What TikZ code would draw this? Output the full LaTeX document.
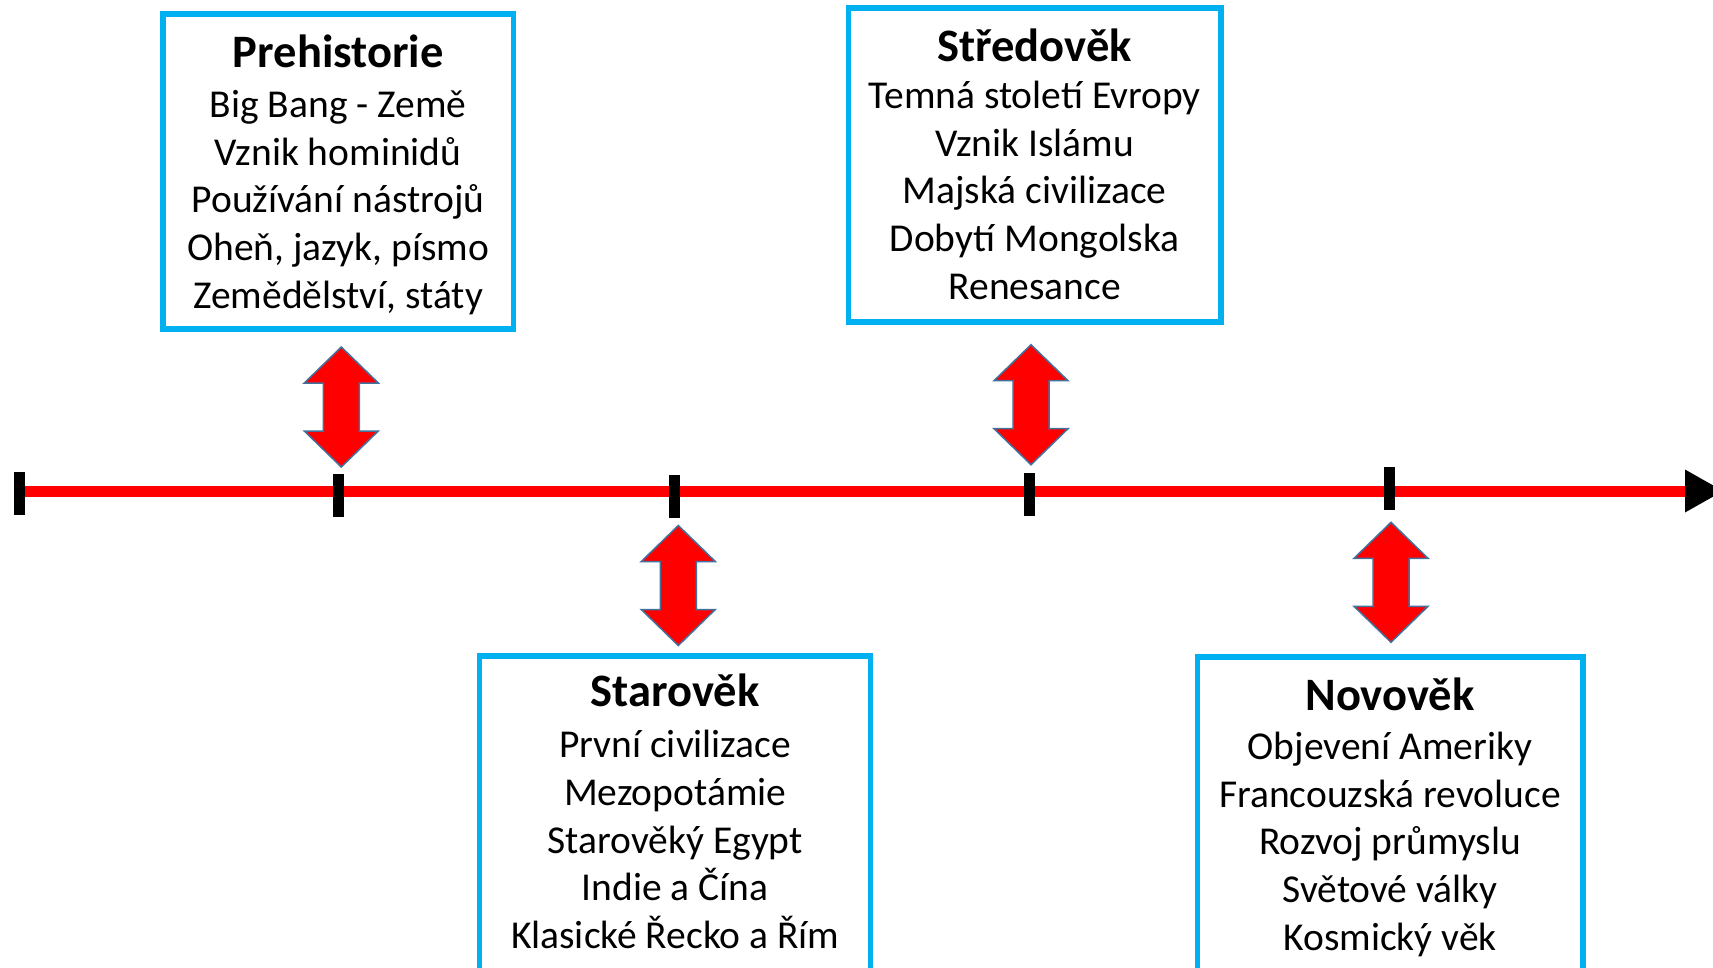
\documentclass[tikz,border=0pt]{standalone}
\usepackage{fontspec}
\setmainfont{Carlito}
\definecolor{boxcyan}{RGB}{0,176,240}
\definecolor{arrblue}{RGB}{65,113,156}
\newcommand{\ttl}[1]{{\fontsize{46.5}{47.8}\selectfont\bfseries #1}}
\begin{document}
\begin{tikzpicture}[x=1pt,y=-1pt,
  period/.style={draw=boxcyan, line width=5.5pt, inner sep=0pt},
  txt/.style={anchor=base, inner sep=0pt, font=\fontsize{39.5}{47.8}\selectfont},
  tickmark/.style={fill=black, inner sep=0pt, minimum width=11pt, minimum height=43pt},
  axisline/.style={draw=red, line width=11pt},
  arr/.style={fill=red, draw=arrblue, line width=1.5pt, line join=miter},
  dblarr/.pic={\path[arr] (0,-60) -- (37,-24) -- (18,-24) -- (18,24) -- (37,24) -- (0,60) -- (-37,24) -- (-18,24) -- (-18,-24) -- (-37,-24) -- cycle;}
]
\clip (0,0) rectangle (1713,967);
\fill[white] (0,0) rectangle (1713,967);

% axis
\coordinate (start) at (19,491);
\coordinate (end) at (1685,491);
\draw[axisline] (start) -- (end);
\fill[black] (end) ++(0,-21.5) -- ++(38,21.5) -- ++(-38,21.5) -- cycle;

% ticks
\node[tickmark] (t1) at (19.5,493.5) {};
\node[tickmark] (t2) at (338.5,495.3) {};
\node[tickmark] (t3) at (674.5,496.3) {};
\node[tickmark] (t4) at (1029.5,494.2) {};
\node[tickmark] (t5) at (1389.5,488.3) {};

% double arrows
\pic (a1) at (341.3,407) {dblarr};
\pic (a2) at (678.3,585.5) {dblarr};
\pic (a3) at (1031,404.7) {dblarr};
\pic (a4) at (1391,582.3) {dblarr};

% boxes
\node[period, minimum width=350.3pt, minimum height=314.8pt] (pre) at (338.2,171.6) {};
\node[period, minimum width=372.1pt, minimum height=314.2pt] (str) at (1034.7,165.1) {};
\node[period, minimum width=391pt, minimum height=344.2pt] (sta) at (675.2,827.9) {};
\node[period, minimum width=385.7pt, minimum height=343pt] (nov) at (1390.1,828.5) {};

% texts
\node[txt] (pretext) at (338.2,67.9) {\begin{tabular}[t]{@{}c@{}}\ttl{Prehistorie}\\[1.5pt]
Big Bang - Země\\ Vznik hominidů\\ Používání nástrojů\\ Oheň, jazyk, písmo\\ Zemědělství, státy\end{tabular}};
\node[txt] (strtext) at (1034.7,61) {\begin{tabular}[t]{@{}c@{}}\ttl{Středověk}\\[-0.5pt]
Temná století Evropy\\ Vznik Islámu\\ Majská civilizace\\ Dobytí Mongolska\\ Renesance\end{tabular}};
\node[txt] (statext) at (675.2,706.7) {\begin{tabular}[t]{@{}c@{}}\ttl{Starověk}\\[3pt]
První civilizace\\ Mezopotámie\\ Starověký Egypt\\ Indie a Čína\\ Klasické Řecko a Řím\end{tabular}};
\node[txt] (novtext) at (1390,710) {\begin{tabular}[t]{@{}c@{}}\ttl{Novověk}\\[1.5pt]
Objevení Ameriky\\ Francouzská revoluce\\ Rozvoj průmyslu\\ Světové války\\ Kosmický věk\end{tabular}};
\end{tikzpicture}
\end{document}
